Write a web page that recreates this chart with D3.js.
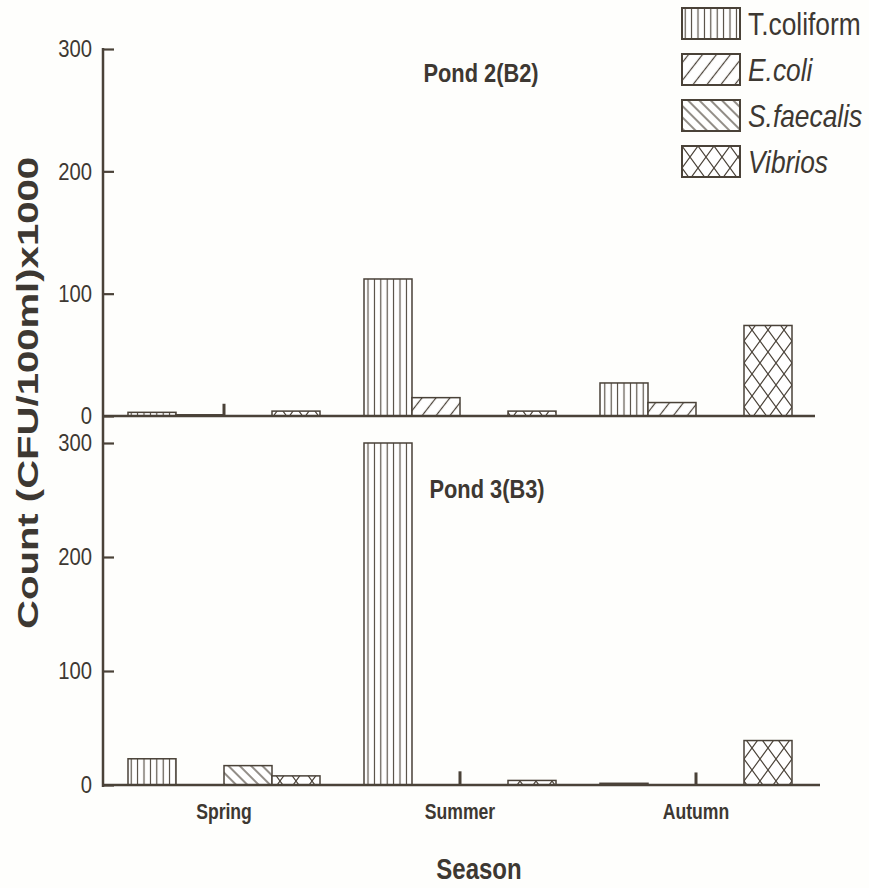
<!DOCTYPE html>
<html>
<head>
<meta charset="utf-8">
<script src="https://cdn.jsdelivr.net/npm/d3@7"></script>
<style>
  html, body { margin: 0; padding: 0; background: #fefefc; }
  svg { display: block; }
  text { font-family: "Liberation Sans", Arial, sans-serif; }
</style>
</head>
<body>
<svg id="chart" width="869" height="888"></svg>
<script>
// ---------------- data ----------------
const seasons = ["Spring", "Summer", "Autumn"];
const seriesNames = ["T.coliform", "E.coli", "S.faecalis", "Vibrios"];
const seriesItalic = [false, true, true, true];

// Pond 2 (B2)
const pond2TColiform = [3, 112, 27];
const pond2EColi = [1, 15, 11];
const pond2SFaecalis = [0, 0, 0];
const pond2Vibrios = [4, 4, 74];
const pond2Stubs = [10, 0, 0];

// Pond 3 (B3)
const pond3TColiform = [23, 300, 1.5];
const pond3EColi = [0, 0, 0];
const pond3SFaecalis = [17, 0, 0];
const pond3Vibrios = [8, 4, 39];
const pond3Stubs = [0, 12, 11];

const yTickValues = [0, 100, 200, 300];
const yTitle = "Count (CFU/100ml)x1000";
const xTitle = "Season";
const panelTitles = ["Pond 2(B2)", "Pond 3(B3)"];

// ---------------- drawing ----------------
const ink = "#4a4238";
const textInk = "#3d3832";
const svg = d3.select("#chart");
const defs = svg.append("defs");

function placeNarrow(sel, x, y, sx) {
  sel.attr("transform", (d, i) => {
    const xx = typeof x === "function" ? x(d, i) : x;
    const yy = typeof y === "function" ? y(d, i) : y;
    return `translate(${xx},${yy}) scale(${sx},1)`;
  });
}

function linePattern(id, spacing, angle, sw) {
  const p = defs.append("pattern").attr("id", id)
    .attr("patternUnits", "userSpaceOnUse")
    .attr("width", spacing).attr("height", 10)
    .attr("patternTransform", `rotate(${angle})`);
  p.append("rect").attr("width", spacing).attr("height", 10).attr("fill", "#fff");
  p.append("line").attr("x1", spacing / 2).attr("x2", spacing / 2)
    .attr("y1", -1).attr("y2", 11).attr("stroke", ink).attr("stroke-width", sw);
}
linePattern("pat0", 6.4, 0, 1.1);
linePattern("pat1", 11, 38, 1.2);
linePattern("pat2", 8, -45, 1.2);
{
  const w = 16, h = 22;
  const p = defs.append("pattern").attr("id", "pat3")
    .attr("patternUnits", "userSpaceOnUse").attr("width", w).attr("height", h);
  p.append("rect").attr("width", w).attr("height", h).attr("fill", "#fff");
  p.append("path").attr("d", `M0,0L${w},${h}M${w},0L0,${h}`)
    .attr("stroke", ink).attr("stroke-width", 1.2).attr("fill", "none");
}

const x0 = d3.scaleBand().domain(seasons).range([106, 814])
  .paddingInner(44 / 236).paddingOuter(22 / 236);
const x1 = d3.scaleBand().domain(seriesNames).range([0, x0.bandwidth()]);

const panels = [
  { title: panelTitles[0], values: [pond2TColiform, pond2EColi, pond2SFaecalis, pond2Vibrios],
    stubs: pond2Stubs, y: d3.scaleLinear().domain([0, 300]).range([416, 49]),
    titleX: 481, titleY: 82, baseEnd: 815 },
  { title: panelTitles[1], values: [pond3TColiform, pond3EColi, pond3SFaecalis, pond3Vibrios],
    stubs: pond3Stubs, y: d3.scaleLinear().domain([0, 300]).range([785, 443]),
    titleX: 487, titleY: 498, baseEnd: 820 }
];

const axisX = 103;

panels.forEach((pn, pi) => {
  const g = svg.append("g");
  const rows = [];
  seasons.forEach((s, si) => {
    seriesNames.forEach((n, ki) => {
      rows.push({ season: s, series: n, k: ki, v: pn.values[ki][si] });
    });
  });
  g.selectAll("rect.bar").data(rows.filter(d => d.v > 0)).join("rect")
    .attr("class", "bar")
    .attr("x", d => x0(d.season) + x1(d.series))
    .attr("width", x1.bandwidth())
    .attr("y", d => pn.y(d.v))
    .attr("height", d => pn.y(0) - pn.y(d.v))
    .attr("fill", d => `url(#pat${d.k})`)
    .attr("stroke", ink).attr("stroke-width", 1.5);

  // short stub marks at right edge of E.coli slot
  g.selectAll("rect.stub").data(seasons.map((s, i) => ({ s, v: pn.stubs[i] })).filter(d => d.v > 0))
    .join("rect").attr("class", "stub")
    .attr("x", d => x0(d.s) + x1("E.coli") + x1.bandwidth() - 1.5)
    .attr("width", 3)
    .attr("y", d => pn.y(d.v))
    .attr("height", d => pn.y(0) - pn.y(d.v))
    .attr("fill", ink);

  // baseline
  g.append("line").attr("x1", axisX).attr("x2", pn.baseEnd)
    .attr("y1", pn.y(0)).attr("y2", pn.y(0))
    .attr("stroke", ink).attr("stroke-width", 2.5);

  // y axis ticks & labels
  const ax = g.append("g").attr("transform", `translate(${axisX},0)`)
    .call(d3.axisLeft(pn.y).tickValues(yTickValues).tickSizeInner(-11).tickSizeOuter(0).tickPadding(11));
  ax.select(".domain").remove();
  ax.selectAll(".tick line").attr("stroke", ink).attr("stroke-width", 2.2);
  ax.selectAll(".tick text")
    .attr("x", null).attr("dy", "0.34em")
    .attr("transform", "translate(-11,0) scale(0.88,1)")
    .attr("font-size", 23).attr("font-family", "'Liberation Sans', Arial, sans-serif")
    .attr("fill", textInk);

  // panel title
  g.append("text")
    .call(placeNarrow, pn.titleX, pn.titleY, 0.84)
    .attr("text-anchor", "middle").attr("font-size", 26).attr("font-weight", "bold")
    .attr("fill", textInk).text(pn.title);
});

// continuous y axis line
svg.append("line").attr("x1", axisX).attr("x2", axisX).attr("y1", 48).attr("y2", 787)
  .attr("stroke", ink).attr("stroke-width", 2.5);

// season labels
svg.append("g").selectAll("text").data(seasons).join("text")
  .call(placeNarrow, d => x0(d) + x0.bandwidth() / 2, 819, 0.8)
  .attr("text-anchor", "middle").attr("font-size", 22).attr("font-weight", "bold")
  .attr("fill", textInk).text(d => d);

// x title
svg.append("text")
  .call(placeNarrow, 479, 879, 0.8)
  .attr("text-anchor", "middle")
  .attr("font-size", 30).attr("font-weight", "bold").attr("fill", textInk).text(xTitle);

// y title
svg.append("text")
  .attr("transform", "translate(38,393) rotate(-90)")
  .attr("text-anchor", "middle")
  .attr("font-size", 30).attr("font-weight", "bold")
  .attr("textLength", 472).attr("lengthAdjust", "spacingAndGlyphs")
  .attr("fill", textInk).text(yTitle);

// legend
const lg = svg.append("g");
const legItems = lg.selectAll("g").data(seriesNames).join("g")
  .attr("transform", (d, i) => `translate(682,${8 + i * 46})`);
legItems.append("rect").attr("width", 58).attr("height", 31)
  .attr("fill", (d, i) => `url(#pat${i})`)
  .attr("stroke", ink).attr("stroke-width", 2);
legItems.append("text")
  .call(placeNarrow, 66, 27, 0.85)
  .attr("font-size", 31)
  .attr("font-style", (d, i) => seriesItalic[i] ? "italic" : "normal")
  .attr("fill", textInk).text(d => d);
</script>
</body>
</html>
